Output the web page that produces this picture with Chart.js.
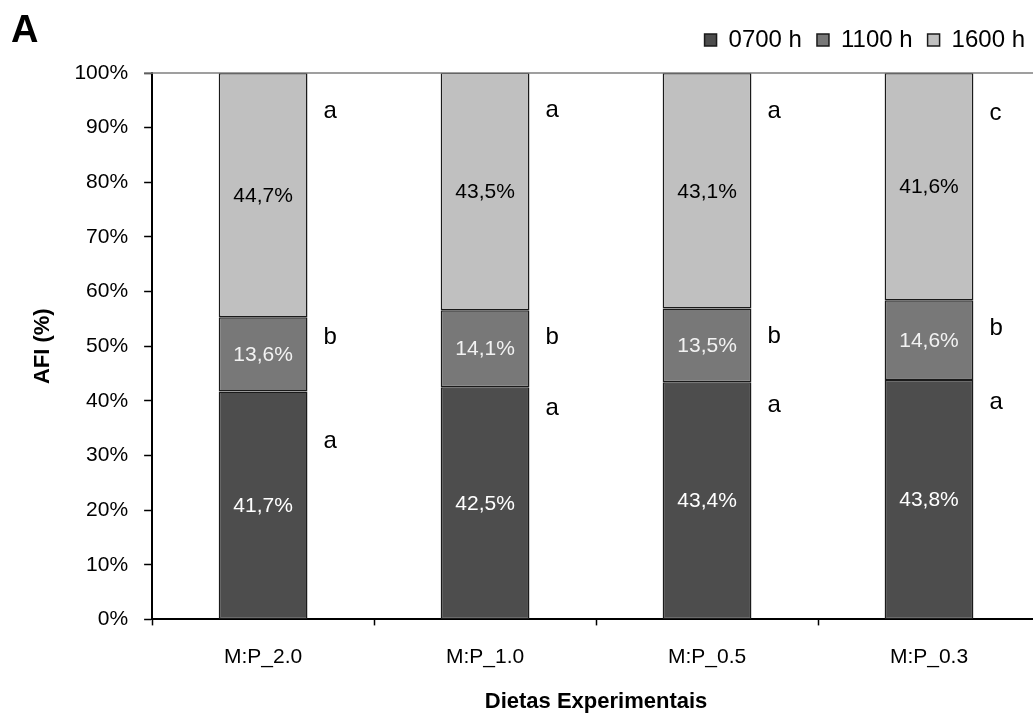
<!DOCTYPE html>
<html>
<head>
<meta charset="utf-8">
<title>AFI por horário</title>
<script src="https://cdn.jsdelivr.net/npm/chart.js@4/dist/chart.umd.min.js"></script>
<style>
  html, body { margin: 0; padding: 0; background: #fff; overflow: hidden; }
  #wrap { width: 1041px; height: 715px; }
</style>
</head>
<body>
<div id="wrap"><canvas id="c" width="1041" height="715"></canvas></div>
<script>
// Diets and share of daily intake (%) at each feeding time
const diets = ['M:P_2.0', 'M:P_1.0', 'M:P_0.5', 'M:P_0.3'];
const feed0700 = [41.7, 42.5, 43.4, 43.8];
const feed1100 = [13.6, 14.1, 13.5, 14.6];
const feed1600 = [44.7, 43.5, 43.1, 41.6];

// Significance letters per feeding time
const sig0700 = ['a', 'a', 'a', 'a'];
const sig1100 = ['b', 'b', 'b', 'b'];
const sig1600 = ['a', 'a', 'a', 'c'];

const yTicks = [0, 10, 20, 30, 40, 50, 60, 70, 80, 90, 100];

const FONT = '"Liberation Sans", Arial, Helvetica, sans-serif';

// Where the significance letters sit on the y scale (percent)
const letterLevels = [
  [32.6, 51.6, 93.0],
  [38.6, 51.6, 93.2],
  [39.2, 51.8, 93.0],
  [39.8, 53.2, 92.7]
];

const fmt = v => v.toFixed(1).replace('.', ',') + '%';

// extra space between the legend row and the plot
const legendGap = {
  id: 'legendGap',
  beforeInit(chart) {
    const legend = chart.legend;
    if (!legend) return;
    const fit = legend.fit;
    legend.fit = function () {
      fit.call(this);
      this.height += 11;
    };
  }
};

const segmentLabels = {
  id: 'segmentLabels',
  afterDatasetsDraw(chart) {
    const ctx = chart.ctx;
    const yScale = chart.scales.y;
    const letterSets = [sig0700, sig1100, sig1600];
    const textColors = ['#ffffff', '#f2f2f2', '#000000'];
    ctx.save();
    chart.data.datasets.forEach((ds, di) => {
      const meta = chart.getDatasetMeta(di);
      meta.data.forEach((bar, i) => {
        const v = ds.data[i];
        ctx.font = '21px ' + FONT;
        ctx.fillStyle = textColors[di];
        ctx.textAlign = 'center';
        ctx.textBaseline = 'middle';
        ctx.fillText(fmt(v), bar.x, (bar.y + bar.base) / 2 + 1);

        ctx.font = '24px ' + FONT;
        ctx.fillStyle = '#000';
        ctx.textAlign = 'left';
        const ly = yScale.getPixelForValue(letterLevels[i][di]);
        ctx.fillText(letterSets[di][i], bar.x + bar.width / 2 + 16, ly);
      });
    });
    ctx.restore();
  },
  afterDraw(chart) {
    const ctx = chart.ctx;
    const a = chart.chartArea;
    ctx.save();
    // top frame line
    ctx.strokeStyle = '#7f7f7f';
    ctx.lineWidth = 1.5;
    ctx.beginPath();
    ctx.moveTo(a.left - 8, a.top);
    ctx.lineTo(a.right, a.top);
    ctx.stroke();
    // panel letter
    ctx.font = 'bold 38px ' + FONT;
    ctx.fillStyle = '#000';
    ctx.textAlign = 'left';
    ctx.textBaseline = 'alphabetic';
    ctx.fillText('A', 11, 42);
    ctx.restore();
  }
};

const barStyle = {
  borderColor: '#1a1a1a',
  borderWidth: 1.5,
  borderSkipped: false,
  categoryPercentage: 0.4,
  barPercentage: 1.0
};

new Chart(document.getElementById('c'), {
  type: 'bar',
  data: {
    labels: diets,
    datasets: [
      Object.assign({ label: '0700 h', data: feed0700, backgroundColor: '#4d4d4d' }, barStyle),
      Object.assign({ label: '1100 h', data: feed1100, backgroundColor: '#787878' }, barStyle),
      Object.assign({ label: '1600 h', data: feed1600, backgroundColor: '#c0c0c0' }, barStyle)
    ]
  },
  options: {
    responsive: false,
    animation: false,
    devicePixelRatio: 1,
    layout: { padding: { left: 30, right: 1, top: 13, bottom: 0 } },
    plugins: {
      tooltip: { enabled: false },
      legend: {
        position: 'top',
        align: 'end',
        labels: {
          color: '#000',
          font: { family: FONT, size: 24 },
          boxWidth: 12,
          boxHeight: 12,
          padding: 15
        }
      }
    },
    scales: {
      x: {
        stacked: true,
        grid: {
          offset: true,
          drawOnChartArea: false,
          drawTicks: true,
          tickLength: 6,
          tickColor: '#000',
          tickWidth: 1.5
        },
        border: { display: true, color: '#000', width: 2 },
        ticks: { color: '#000', font: { family: FONT, size: 21 }, padding: 19 },
        title: {
          display: true,
          text: 'Dietas Experimentais',
          color: '#000',
          font: { family: FONT, size: 22, weight: 'bold' },
          padding: { top: 0, bottom: 0 }
        }
      },
      y: {
        stacked: true,
        min: 0,
        max: 100,
        afterBuildTicks(scale) { scale.ticks = yTicks.map(v => ({ value: v })); },
        grid: {
          drawOnChartArea: false,
          drawTicks: true,
          tickLength: 8,
          tickColor: '#000',
          tickWidth: 1.5
        },
        border: { display: true, color: '#000', width: 2 },
        ticks: {
          color: '#000',
          font: { family: FONT, size: 21 },
          padding: 16,
          callback: v => v + '%'
        },
        title: {
          display: true,
          text: 'AFI (%)',
          color: '#000',
          font: { family: FONT, size: 22, weight: 'bold' },
          padding: { top: 0, bottom: 2 }
        }
      }
    }
  },
  plugins: [legendGap, segmentLabels]
});
</script>
</body>
</html>
